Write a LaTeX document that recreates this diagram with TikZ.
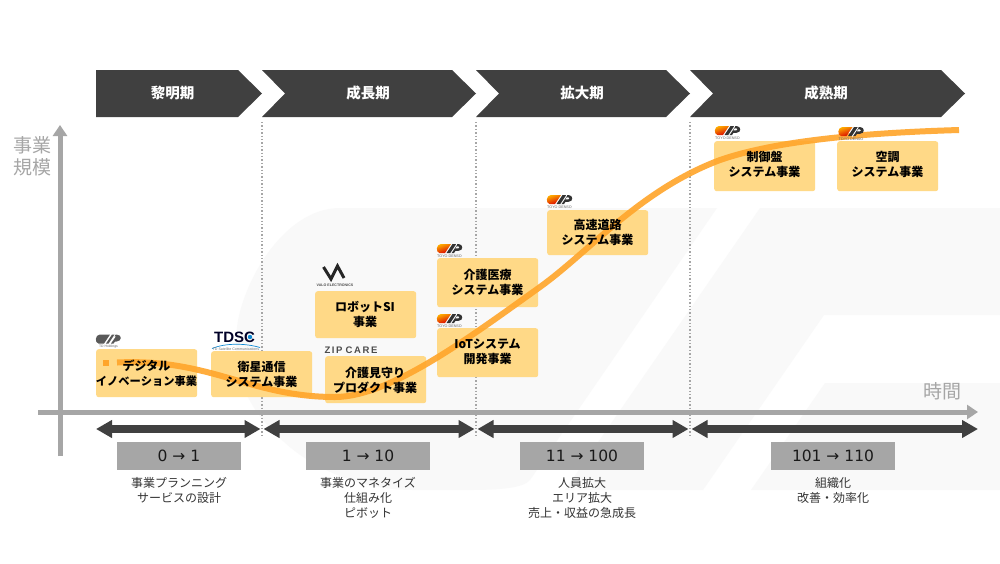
\documentclass[tikz,border=0pt]{standalone}
\usepackage{fontspec}
\usetikzlibrary{arrows.meta}
\setmainfont{Noto Sans CJK JP}
\newfontfamily\latinf{DejaVu Sans}
\newfontfamily\logof{Liberation Sans}
\definecolor{dark}{HTML}{404040}
\definecolor{axisgray}{HTML}{A6A6A6}
\definecolor{wm}{HTML}{F9F9F9}
\definecolor{boxy}{HTML}{FFD987}
\definecolor{curve}{HTML}{FFA52A}
\tikzset{
  x=1pt,y=-1pt,
  phase/.style={fill=dark,draw=none},
  phasetxt/.style={text=white,font=\fontsize{14.5}{15}\selectfont\bfseries,inner sep=0},
  bizbox/.style={fill=boxy,draw=none,rounded corners=2.5pt,minimum width=101pt,inner sep=0,anchor=north west},
  biztxt/.style={text=black,font=\fontsize{12}{15}\selectfont\bfseries,align=center,inner sep=0},
  rangebox/.style={fill=axisgray,minimum width=124pt,minimum height=28pt,inner sep=0,text=black!90,font=\latinf\fontsize{15.5}{16}\selectfont},
  desc/.style={text=black!80,font=\fontsize{12}{15}\selectfont,align=center,inner sep=0,anchor=north},
  axislab/.style={text=axisgray,font=\fontsize{19}{23}\selectfont,align=center,inner sep=0},
  guide/.style={draw=black!35,line width=1.4pt,dash pattern=on 1.4pt off 2pt},
  axisline/.style={draw=axisgray,line width=5pt,-{Triangle[length=11pt,width=14pt]}},
  spanline/.style={draw=dark,line width=8pt,{Triangle[length=16pt,width=17pt]}-{Triangle[length=16pt,width=17pt]}},
  tiny/.style={inner sep=0,font=\logof\fontsize{3.4}{4}\selectfont},
  pics/toyo/.style={code={
    \shade[left color=orange!60!yellow,right color=red!85!black,shading angle=20]
      (2.5,9) .. controls (-1.5,8.5) and (-1,0) .. (4,0) -- (14,0) -- (8,9) -- cycle;
    \fill[black!80,even odd rule] (9.5,9) -- (15.5,0) -- (21.5,0)
      .. controls (26.5,0) and (26.5,6.8) .. (21.5,6.8) -- (18.5,6.8) -- (17,9) -- cycle
      (19.5,2.4) -- (21.5,2.4) .. controls (23,2.4) and (23,4.4) .. (21.5,4.4) -- (18.2,4.4) -- cycle;
    \draw[white,line width=.9pt] (13.6,9.6) -- (19.8,0.2);
    \node[tiny,text=black!60,font=\logof\fontsize{3.7}{4}\selectfont] at (12.5,12) {TOYO DENSO};
  }},
  pics/tdhold/.style={code={
    \fill[black!65] (2.5,9) .. controls (-1.5,8.5) and (-1,0) .. (4,0) -- (14,0) -- (8,9) -- cycle;
    \fill[black!65] (10,9) -- (16,0) -- (18.5,0) -- (12.5,9) -- cycle;
    \fill[black!65] (15,9) -- (20,1.8) -- (18.5,1.8) -- (19.7,0) -- (20.5,0)
      .. controls (26.5,0) and (26,7) .. (20.5,7) -- (19,7) -- (17.5,9) -- cycle;
    \node[tiny,text=black!60] at (12.5,12) {TD Holdings};
  }},
}
\begin{document}
\begin{tikzpicture}
\useasboundingbox (0,0) rectangle (1000,563);
\fill[white] (0,0) rectangle (1000,563);
% watermark
\fill[wm] (340,208) -- (717,208) -- (530,480) .. controls (525,486) and (510,490) .. (470,490) -- (413,490)
  .. controls (350,490) and (300,460) .. (277,435) .. controls (245,405) and (232,370) .. (237,327)
  .. controls (243,280) and (285,208) .. (340,208) -- cycle;
\fill[wm] (760,208) -- (1000,208) -- (1000,315) -- (824,315) -- (703,490) -- (565,490) -- cycle;
\fill[wm] (825,383) -- (1000,383) -- (1000,490) -- (751,490) -- cycle;

% guides
\coordinate (g1t) at (262,122); \coordinate (g1b) at (262,438);
\coordinate (g2t) at (476,122); \coordinate (g2b) at (476,438);
\coordinate (g3t) at (690,122); \coordinate (g3b) at (690,438);
\draw[guide] (g1t) -- (g1b);
\draw[guide] (g2t) -- (g2b);
\draw[guide] (g3t) -- (g3b);

% phases
\fill[phase] (96,70) -- (238,70) -- (262,93.5) -- (238,117) -- (96,117) -- cycle;
\fill[phase] (262,70) -- (452,70) -- (476,93.5) -- (452,117) -- (262,117) -- (285,93.5) -- cycle;
\fill[phase] (476,70) -- (666,70) -- (690,93.5) -- (666,117) -- (476,117) -- (499,93.5) -- cycle;
\fill[phase] (690,70) -- (941,70) -- (965,93.5) -- (941,117) -- (690,117) -- (713,93.5) -- cycle;
\node[phasetxt] (p1) at (172.5,93) {黎明期};
\node[phasetxt] (p2) at (368,93) {成長期};
\node[phasetxt] (p3) at (582,93) {拡大期};
\node[phasetxt] (p4) at (826,93) {成熟期};

% axes
\coordinate (ya) at (60,456); \coordinate (yb) at (60,125);
\coordinate (xa) at (38,412); \coordinate (xb) at (978,412);
\draw[axisline] (ya) -- (yb);
\draw[axisline] (xa) -- (xb);
\node[axislab] (ylab) at (32,156.5) {事業\\[-0.5pt]規模};
\node[axislab] (xlab) at (942,391) {時間};

% spans
\coordinate (s0) at (96,429); \coordinate (s1a) at (260.5,429);
\coordinate (s1b) at (263.5,429); \coordinate (s2a) at (474.5,429);
\coordinate (s2b) at (477.5,429); \coordinate (s3a) at (688.5,429);
\coordinate (s3b) at (691.5,429); \coordinate (s4) at (978,429);
\draw[spanline] (s0) -- (s1a);
\draw[spanline] (s1b) -- (s2a);
\draw[spanline] (s2b) -- (s3a);
\draw[spanline] (s3b) -- (s4);

% business boxes
\node[bizbox,minimum height=48pt] (b1) at (96,349) {};
\node[bizbox,minimum height=46pt] (b2) at (211,351) {};
\node[bizbox,minimum height=47pt] (b3) at (315,291) {};
\node[bizbox,minimum height=47pt] (b4) at (325,356) {};
\node[bizbox,minimum height=49pt] (b5) at (437,258) {};
\node[bizbox,minimum height=49pt] (b6) at (437,328) {};
\node[bizbox,minimum height=45pt] (b7) at (547,210) {};
\node[bizbox,minimum height=50pt] (b8) at (714,141) {};
\node[bizbox,minimum height=50pt] (b9) at (837,141) {};

% growth curve
\fill[curve] (103,360) rectangle (109,366);
\draw[curve,line width=6pt,opacity=.9]
  (117,362.5) .. controls (210,358) and (250,397) .. (335,397)
  .. controls (390,397) and (470,337) .. (540,287)
  .. controls (590,251) and (640,190) .. (720,160)
  .. controls (775,141) and (860,133) .. (959,130);

% business labels
\node[biztxt] (t1) at (146.5,373.5) {デジタル\\{\fontsize{11.25}{15}\selectfont イノベーション事業}};
\node[biztxt] (t2) at (261.5,374) {衛星通信\\システム事業};
\node[biztxt] (t3) at (365,314) {ロボットSI\\事業};
\node[biztxt] (t4) at (375,380) {介護見守り\\プロダクト事業};
\node[biztxt] (t5) at (487.5,282) {介護医療\\システム事業};
\node[biztxt] (t6) at (487.5,352) {IoTシステム\\開発事業};
\node[biztxt] (t7) at (597.5,232) {高速道路\\システム事業};
\node[biztxt] (t8) at (764.5,164.5) {制御盤\\システム事業};
\node[biztxt] (t9) at (887.5,164.5) {空調\\システム事業};

% logos
\pic at (437,244) {toyo};
\pic at (437,314) {toyo};
\pic at (547,195) {toyo};
\pic at (715,126) {toyo};
\pic at (838.5,127) {toyo};
\pic at (96,334.5) {tdhold};
% TDSC
\node[inner sep=0,text=black!85!blue,font=\logof\fontsize{15}{15}\selectfont\bfseries] (tdsc) at (234.5,337) {TDSC};
\fill[cyan!70!blue] (250,337) circle (2.2);
\draw[cyan!70!blue,line width=.7pt] (212,348.5) .. controls (225,343) and (245,343) .. (260,347.5);
\node[tiny,text=black!55,font=\logof\fontsize{3.6}{4}\selectfont] (tdsct) at (236,349) {TD Satellite Communications};
% Valo
\draw[black!85,line width=3pt,line join=miter] (323.5,267) -- (331,279) -- (337.5,266) -- (344,278);
\node[tiny,text=black!70,font=\logof\fontsize{3.6}{4}\selectfont\bfseries] (valo) at (335,285.5) {VALO ELECTRONICS};
% Zip care
\node[inner sep=0,text=black!70,font=\logof\fontsize{9.5}{10}\selectfont\bfseries] (zip) at (351,350) {Z\,I\,P\,\,C\,A\,R\,E};

% ranges
\node[rangebox] (r1) at (179,456) {0 → 1};
\node[rangebox] (r2) at (368,456) {1 → 10};
\node[rangebox] (r3) at (582,456) {11 → 100};
\node[rangebox] (r4) at (833,456) {101 → 110};
\node[desc] (d1) at (179,477) {事業プランニング\\サービスの設計};
\node[desc] (d2) at (368,477) {事業のマネタイズ\\仕組み化\\ピボット};
\node[desc] (d3) at (582,477) {人員拡大\\エリア拡大\\売上・収益の急成長};
\node[desc] (d4) at (833,477) {組織化\\改善・効率化};
\end{tikzpicture}
\end{document}
